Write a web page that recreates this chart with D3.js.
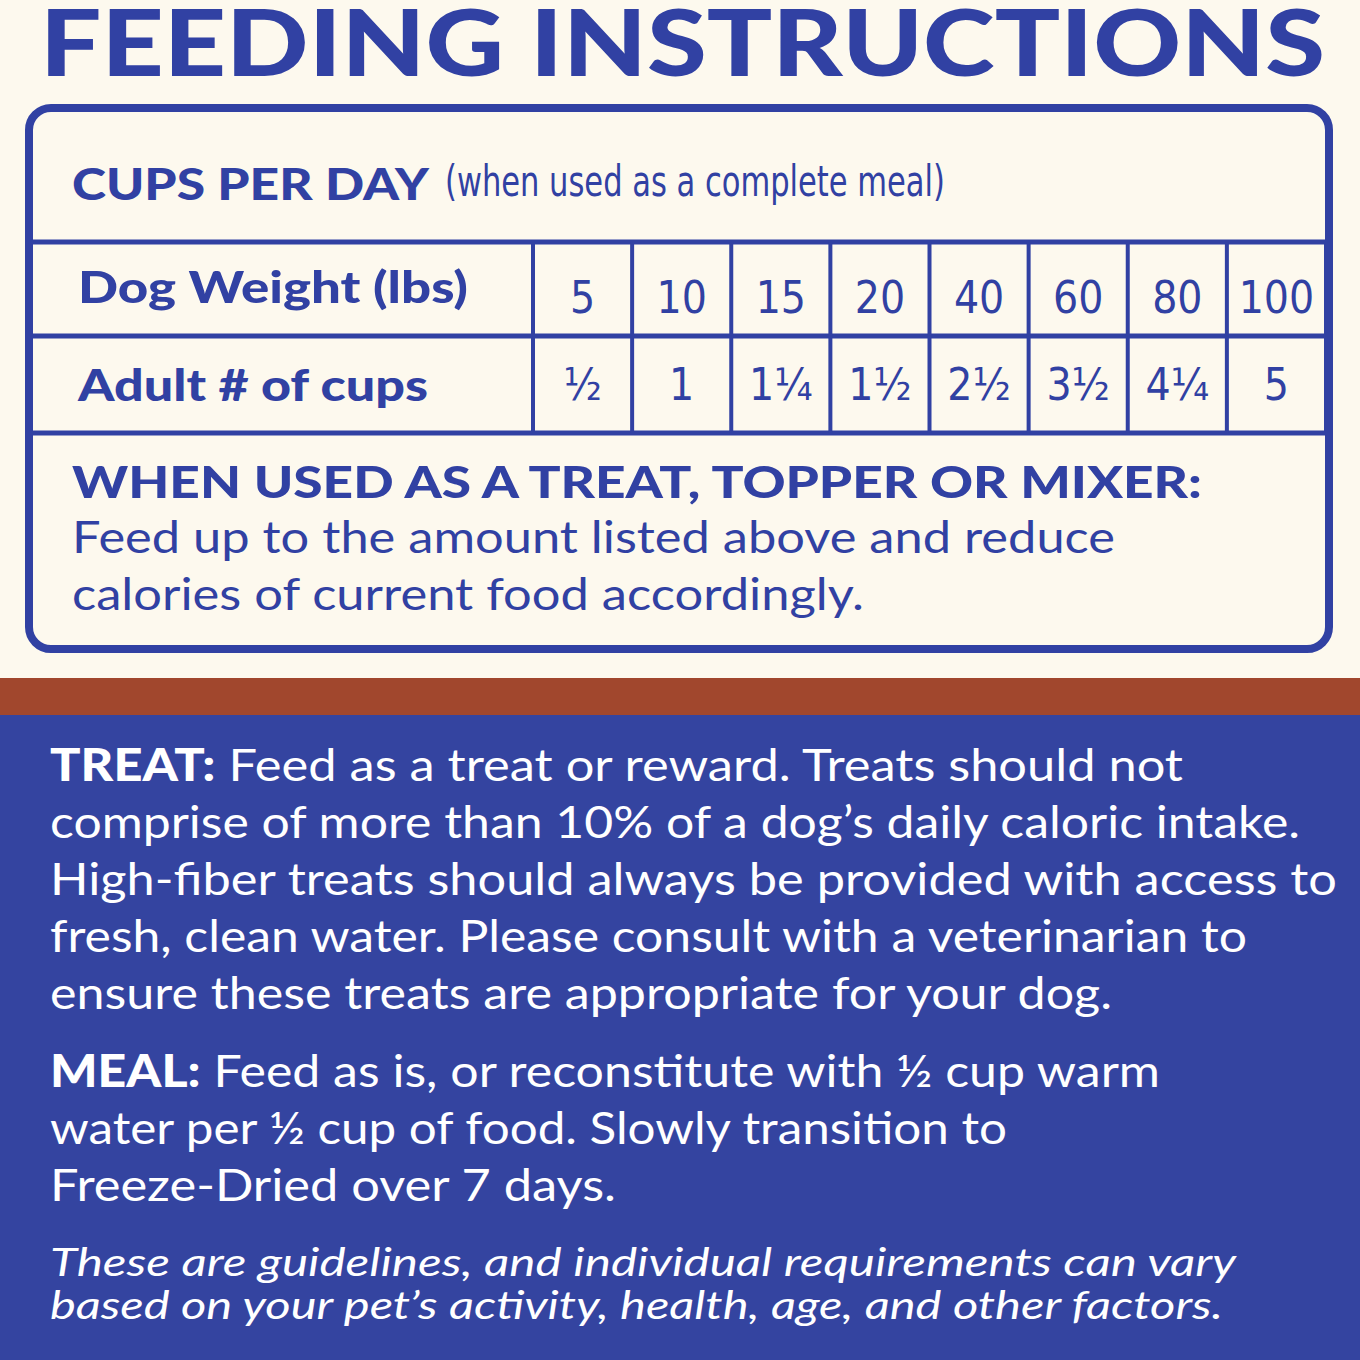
<!DOCTYPE html>
<html><head><meta charset="utf-8">
<script src="https://cdn.jsdelivr.net/npm/d3@7"></script>
<style>body{margin:0;background:#fdf9ee}</style>
</head><body>
<svg id="c" width="1360" height="1360"></svg>
<script>
// Table data
var weights = ["5", "10", "15", "20", "40", "60", "80", "100"];
var cups = ["½", "1", "1¼", "1½", "2½", "3½", "4¼", "5"];
var treatLines = [
  "Feed up to the amount listed above and reduce",
  "calories of current food accordingly."
];
var panelLines = [
  [["TREAT:", true], [" Feed as a treat or reward. Treats should not", false]],
  [["comprise of more than 10% of a dog’s daily caloric intake.", false]],
  [["High-fiber treats should always be provided with access to", false]],
  [["fresh, clean water. Please consult with a veterinarian to", false]],
  [["ensure these treats are appropriate for your dog.", false]]
];
var mealLines = [
  [["MEAL:", true], [" Feed as is, or reconstitute with ½ cup warm", false]],
  [["water per ½ cup of food. Slowly transition to", false]],
  [["Freeze-Dried over 7 days.", false]]
];
var noteLines = [
  "These are guidelines, and individual requirements can vary",
  "based on your pet’s activity, health, age, and other factors."
];

var blue = "#3141a3", cream = "#fdf9ee";
var svg = d3.select("#c");
var sans = "Lato, 'Open Sans', sans-serif";
var narrow = "'Liberation Sans Narrow', 'DejaVu Sans Condensed', sans-serif";

svg.append("rect").attr("width", 1360).attr("height", 1360).attr("fill", cream);

// Title (top is cropped in the original too)
svg.append("text").attr("x", 40).attr("y", 76).attr("fill", blue)
  .attr("font-family", sans).attr("font-weight", 900).attr("font-size", 92)
  .attr("textLength", 1285).attr("lengthAdjust", "spacingAndGlyphs")
  .text("FEEDING INSTRUCTIONS");

// Box
svg.append("rect").attr("x", 29).attr("y", 108).attr("width", 1300).attr("height", 541)
  .attr("rx", 22).attr("fill", "none").attr("stroke", blue).attr("stroke-width", 8);

svg.append("text").attr("x", 72).attr("y", 200).attr("fill", blue).attr("font-family", sans)
  .attr("font-weight", 900).attr("font-size", 44).attr("textLength", 357)
  .attr("lengthAdjust", "spacingAndGlyphs").text("CUPS PER DAY");
svg.append("text").attr("x", 445).attr("y", 196).attr("fill", blue).attr("font-family", narrow)
  .attr("font-size", 42).attr("textLength", 500).attr("lengthAdjust", "spacingAndGlyphs")
  .text("(when used as a complete meal)");

var x = d3.scaleBand().domain(weights.map(function (d, i) { return i; })).range([533, 1326]);
var rows = [{label: "Dog Weight (lbs)", vals: weights, w: 390},
            {label: "Adult # of cups", vals: cups, w: 350}];

[242, 336, 433].forEach(function (y) {
  svg.append("line").attr("x1", 31).attr("x2", 1327).attr("y1", y).attr("y2", y)
    .attr("stroke", blue).attr("stroke-width", 5);
});
x.domain().concat([weights.length]).forEach(function (i) {
  var xx = i < weights.length ? x(i) : 1326;
  svg.append("line").attr("x1", xx).attr("x2", xx).attr("y1", 242).attr("y2", 433)
    .attr("stroke", blue).attr("stroke-width", 4);
});

rows.forEach(function (r, ri) {
  svg.append("text").attr("x", 78).attr("y", ri ? 401 : 303).attr("fill", blue)
    .attr("font-family", sans).attr("font-weight", 900).attr("font-size", 44)
    .attr("textLength", r.w).attr("lengthAdjust", "spacingAndGlyphs")
    .text(r.label);
  svg.selectAll(null).data(r.vals).enter().append("text")
    .attr("x", function (d, i) { return x(i) + x.bandwidth() / 2; })
    .attr("y", ri ? 400 : 313).attr("text-anchor", "middle")
    .attr("fill", blue).attr("font-family", narrow).attr("font-size", 44)
    .text(function (d) { return d; });
});

svg.append("text").attr("x", 72).attr("y", 498).attr("fill", blue).attr("font-family", sans)
  .attr("font-weight", 900).attr("font-size", 44).attr("textLength", 1130)
  .attr("lengthAdjust", "spacingAndGlyphs").text("WHEN USED AS A TREAT, TOPPER OR MIXER:");
svg.selectAll(null).data(treatLines).enter().append("text")
  .attr("x", 72).attr("y", function (d, i) { return 553 + i * 57; })
  .attr("fill", blue).attr("font-family", sans).attr("font-size", 44)
  .attr("textLength", function (d, i) { return i ? 792 : 1043; })
  .attr("lengthAdjust", "spacingAndGlyphs").text(function (d) { return d; });

// Panels
svg.append("rect").attr("x", 0).attr("y", 678).attr("width", 1360).attr("height", 37).attr("fill", "#a1472d");
svg.append("rect").attr("x", 0).attr("y", 715).attr("width", 1360).attr("height", 645).attr("fill", "#3444a0");

var panelWidths = [1133, 1250, 1287, 1197, 1062];
var mealWidths = [1110, 957, 566];
function para(lines, y0, widths) {
  lines.forEach(function (segs, i) {
    var t = svg.append("text").attr("x", 50).attr("y", y0 + i * 57).attr("fill", "#fff")
      .attr("font-family", sans).attr("font-size", 45)
      .attr("textLength", widths[i]).attr("lengthAdjust", "spacingAndGlyphs");
    segs.forEach(function (s) {
      t.append("tspan").attr("font-weight", s[1] ? 900 : 400).text(s[0]);
    });
  });
}
para(panelLines, 781, panelWidths);
para(mealLines, 1087, mealWidths);

svg.selectAll(null).data(noteLines).enter().append("text")
  .attr("x", 50).attr("y", function (d, i) { return 1276 + i * 43; })
  .attr("fill", "#fff").attr("font-family", sans).attr("font-style", "italic").attr("font-size", 38)
  .attr("textLength", function (d, i) { return i ? 1173 : 1186; })
  .attr("lengthAdjust", "spacingAndGlyphs").text(function (d) { return d; });
</script>
</body></html>
